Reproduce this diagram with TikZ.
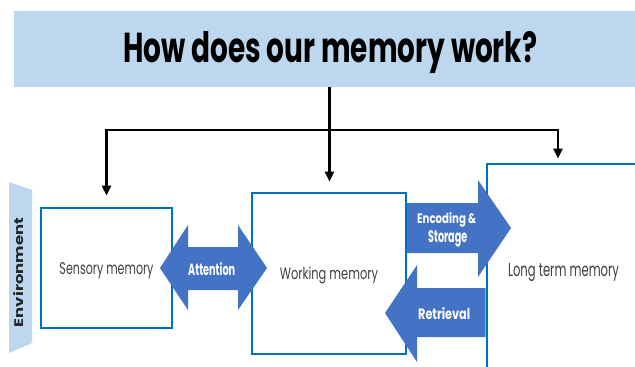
\documentclass[tikz,border=0pt]{standalone}
\usepackage{fontspec}
\setmainfont{Poppins}
\usetikzlibrary{arrows.meta}
\definecolor{barblue}{HTML}{BDD7EE}
\definecolor{boxblue}{HTML}{0070C0}
\definecolor{arrblue}{HTML}{4472C4}
\definecolor{lblgray}{HTML}{404040}
\begin{document}
\begin{tikzpicture}[x=1pt,y=-1pt,
  mem/.style={draw=boxblue, line width=2.8pt, fill=white, text=lblgray, inner sep=0pt, text depth=0pt},
  conn/.style={line width=2.4pt, black},
  arr/.style={conn, -{Triangle[width=9pt,length=10pt]}},
  blk/.style={fill=arrblue},
  wt/.style={text=white, font=\bfseries, inner sep=0pt, anchor=base west}]
\clip (0,0) rectangle (635,367);
\fill[white] (0,0) rectangle (635,367);
% title bar
\node[fill=barblue, minimum width=646pt, minimum height=76pt, inner sep=0pt] (bar) at (337,49) {};
\node[anchor=base west, inner sep=0pt] (title) at (123,62) {\resizebox{414pt}{31pt}{\bfseries How does our memory work?}};
% environment
\fill[barblue] (9,182) -- (32,190) -- (32,343) -- (9,353) -- cycle;
\node[rotate=90, anchor=base, inner sep=0pt, text={black!85}] (env) at (23,272.5) {\resizebox{109pt}{10pt}{\bfseries Environment}};
% memory boxes
\node[mem, minimum width=131pt, minimum height=120pt] (sens) at (106.5,268) {\resizebox{94pt}{12pt}{Sensory memory}};
\node[mem, minimum width=154pt, minimum height=161pt] (work) at (329,273.5) {\resizebox{98pt}{12.5pt}{Working memory}};
\node[mem, minimum width=153pt, minimum height=211pt] (ltm) at (563.5,269.5) {\resizebox{111pt}{13pt}{Long term memory}};
% connectors
\coordinate (j) at (329.5,130);
\coordinate (rt) at ([xshift=-5.5pt]ltm.north);
\draw[conn] (bar.south -| j) -- (j);
\draw[arr, shorten >=11pt] (j) -| (sens.north);
\draw[arr, shorten >=10pt] (j) -- (j |- work.north);
\draw[arr, shorten >=4pt] (j) -| (rt);
% block arrows
\fill[blk] (160,268) -- (188,225) -- (188,247) -- (238,247) -- (238,225) -- (267,268) -- (238,310) -- (238,290) -- (188,290) -- (188,310) -- cycle;
\node[wt] (att) at (188,275) {\resizebox{47pt}{13pt}{Attention}};
\fill[blk] (407,203) -- (478,203) -- (478,180) -- (511,228) -- (478,277) -- (478,253) -- (407,253) -- cycle;
\node[wt] (enc) at (417,223) {\resizebox{59pt}{11pt}{Encoding \&}};
\node[wt] (sto) at (428,242) {\resizebox{39pt}{12pt}{Storage}};
\fill[blk] (385,313) -- (417,265) -- (417,288) -- (485.6,288) -- (485.6,337) -- (417,337) -- (417,362) -- cycle;
\node[wt] (ret) at (418,319) {\resizebox{52pt}{12pt}{Retrieval}};
\end{tikzpicture}
\end{document}
